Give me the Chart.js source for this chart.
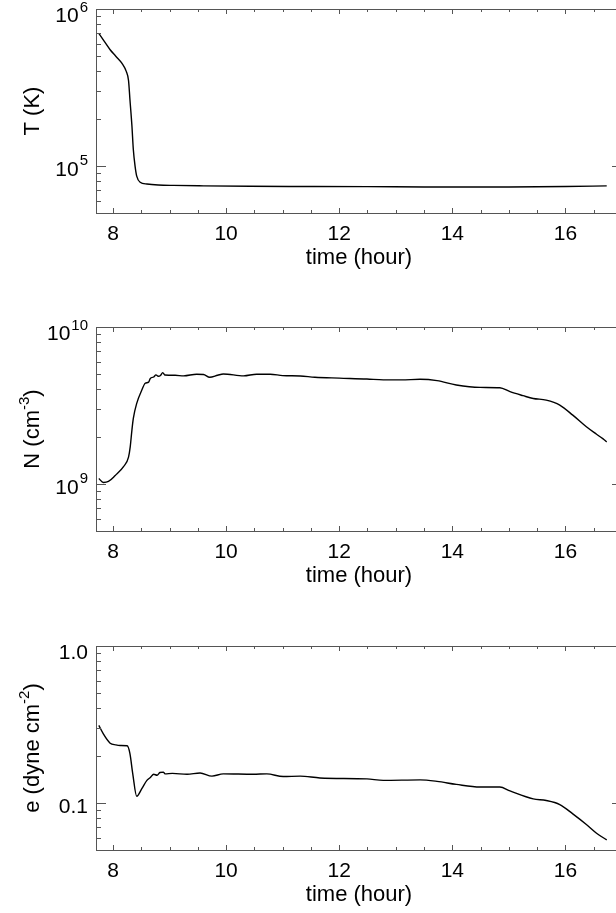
<!DOCTYPE html>
<html>
<head>
<meta charset="utf-8">
<title>Temperature, density and energy density vs time</title>
<script src="https://cdn.jsdelivr.net/npm/chart.js@4.4.1/dist/chart.umd.min.js"></script>
<style>
  html, body { margin: 0; padding: 0; background: #fff; overflow: hidden; }
  body { width: 616px; height: 913px; position: relative; }
  canvas { position: absolute; left: 0; }
</style>
</head>
<body>
<canvas id="tempChart" width="640" height="276" style="top:0px"></canvas>
<canvas id="densChart" width="640" height="276" style="top:318px"></canvas>
<canvas id="enerChart" width="640" height="276" style="top:637px"></canvas>
<script>
// time axis, shared by all three panels
const hourRange = [7.7, 17.0];
const hourTicks = [8, 10, 12, 14, 16];

// temperature T (K)
const tempHours = [7.75, 7.85, 7.95, 8.05, 8.16, 8.235, 8.275, 8.30, 8.335, 8.36, 8.39, 8.42, 8.48,
  8.60, 8.80, 9.07, 9.6, 10.42, 11.5, 12.5, 13.5, 14.0, 15.0, 16.0, 16.73];
const tempKelvin = [7.0e5, 6.2e5, 5.5e5, 5.0e5, 4.5e5, 4.0e5, 3.5e5, 2.65e5, 1.8e5, 1.27e5, 1.0e5, 8.6e4, 7.85e4,
  7.65e4, 7.55e4, 7.5e4, 7.45e4, 7.4e4, 7.38e4, 7.36e4, 7.33e4, 7.32e4, 7.33e4, 7.38e4, 7.45e4];
const tempRange = [5e4, 1e6];
const tempTickValues = [1e5, 1e6];
const tempTickLabels = [['10', '5'], ['10', '6']];
const tempTitle = [['T (K)', false]];

// density N (cm^-3)
const densHours = [7.75, 7.83, 7.92, 8.04, 8.19, 8.275, 8.305, 8.335, 8.36, 8.42, 8.51, 8.57, 8.63, 8.66,
  8.72, 8.76, 8.80, 8.84, 8.88, 8.92, 9.1, 9.25, 9.48, 9.60, 9.71, 9.85, 9.95, 10.31, 10.54, 10.78,
  11.0, 11.31, 11.57, 12.0, 12.49, 12.78, 13.1, 13.43, 13.73, 14.07, 14.49, 14.84, 15.02, 15.25,
  15.43, 15.66, 15.90, 16.13, 16.37, 16.55, 16.66, 16.73];
const densValues = [1.08e9, 1.02e9, 1.035e9, 1.13e9, 1.29e9, 1.48e9, 1.72e9, 2.2e9, 2.61e9, 3.26e9, 3.96e9, 4.38e9, 4.45e9, 4.7e9,
  4.8e9, 4.95e9, 4.85e9, 4.9e9, 5.12e9, 4.94e9, 4.92e9, 4.88e9, 5.0e9, 4.98e9, 4.78e9, 4.92e9, 5.02e9, 4.88e9, 5.0e9, 5.0e9,
  4.9e9, 4.87e9, 4.78e9, 4.72e9, 4.66e9, 4.6e9, 4.6e9, 4.64e9, 4.55e9, 4.27e9, 4.12e9, 4.1e9, 3.87e9, 3.65e9,
  3.5e9, 3.42e9, 3.18e9, 2.74e9, 2.31e9, 2.07e9, 1.94e9, 1.85e9];
const densRange = [5e8, 1e10];
const densTickValues = [1e9, 1e10];
const densTickLabels = [['10', '9'], ['10', '10']];
const densTitle = [['N (cm', false], ['-3', true], [')', false]];

// energy density e (dyne cm^-2)
const enerHours = [7.75, 7.83, 7.95, 8.05, 8.13, 8.25, 8.30, 8.35, 8.42, 8.51, 8.60, 8.66, 8.72, 8.78,
  8.83, 8.89, 8.92, 9.05, 9.31, 9.54, 9.75, 9.95, 10.48, 10.72, 11.01, 11.31, 11.66, 12.49, 12.78,
  13.43, 13.73, 14.07, 14.49, 14.84, 15.02, 15.43, 15.66, 15.90, 16.13, 16.37, 16.55, 16.73];
const enerValues = [0.312, 0.275, 0.240, 0.234, 0.232, 0.231, 0.206, 0.153, 0.110, 0.123, 0.139, 0.145, 0.152, 0.150,
  0.156, 0.157, 0.153, 0.154, 0.152, 0.155, 0.148, 0.153, 0.152, 0.153, 0.147, 0.148, 0.144, 0.142, 0.139,
  0.140, 0.137, 0.131, 0.126, 0.126, 0.119, 0.106, 0.1035, 0.0975, 0.085, 0.0727, 0.064, 0.058];
const enerRange = [0.05, 1.0];
const enerTickValues = [0.1, 1.0];
const enerTickLabels = [['0.1', ''], ['1.0', '']];
const enerTitle = [['e (dyne cm', false], ['-2', true], [')', false]];

const FONT = '"Liberation Sans", Arial, Helvetica, sans-serif';
const AXIS_COLOR = '#555';

// box, inward ticks, superscripted y labels and the rotated y title
const framePlugin = {
  id: 'frame',
  afterDraw(chart, args, opts) {
    const { ctx, chartArea: a, scales: { x, y } } = chart;
    ctx.save();
    ctx.strokeStyle = AXIS_COLOR;
    ctx.lineWidth = 1;
    ctx.strokeRect(a.left + 0.5, a.top + 0.5, a.right - a.left, a.bottom - a.top);

    ctx.beginPath();
    for (let h = Math.ceil(x.min * 2) / 2; h < x.max - 0.01; h += 0.5) {
      const px = Math.round(x.getPixelForValue(h)) + 0.5;
      const len = hourTicks.includes(h) ? 5 : 3;
      ctx.moveTo(px, a.bottom); ctx.lineTo(px, a.bottom - len);
      ctx.moveTo(px, a.top); ctx.lineTo(px, a.top + len);
    }
    const lo = Math.floor(Math.log10(y.min));
    const hi = Math.ceil(Math.log10(y.max));
    for (let d = lo; d <= hi; d++) {
      for (let k = 1; k <= 9; k++) {
        const v = k * Math.pow(10, d);
        if (v <= y.min * 1.0001 || v >= y.max * 0.9999) continue;
        const py = Math.round(y.getPixelForValue(v)) + 0.5;
        const len = k === 1 ? 10 : 5;
        ctx.moveTo(a.left, py); ctx.lineTo(a.left + len, py);
        ctx.moveTo(a.right, py); ctx.lineTo(a.right - len, py);
      }
    }
    ctx.stroke();

    // y tick labels, right aligned against the axis
    ctx.fillStyle = '#000';
    ctx.textBaseline = 'alphabetic';
    ctx.textAlign = 'left';
    opts.values.forEach((v, i) => {
      const [base, exp] = opts.labels[i];
      const py = y.getPixelForValue(v);
      const baseline = py + (i === opts.values.length - 1 ? 13 : 10);
      ctx.font = `15px ${FONT}`;
      const supW = exp ? ctx.measureText(exp).width : 0;
      ctx.font = `21px ${FONT}`;
      const baseW = ctx.measureText(base).width;
      const right = a.left - 8;
      const supX = right - supW;
      const baseX = exp ? supX - 1 - baseW : right - baseW;
      ctx.fillText(base, baseX, baseline);
      if (exp) {
        ctx.font = `15px ${FONT}`;
        ctx.fillText(exp, supX, baseline - 10.5);
      }
    });

    // y title, reads bottom to top
    const parts = opts.title;
    const widths = parts.map(([t, sup]) => {
      ctx.font = `${sup ? 15 : 22}px ${FONT}`;
      return ctx.measureText(t).width;
    });
    const total = widths.reduce((s, w) => s + w, 0);
    ctx.translate(38.5, (a.top + a.bottom) / 2);
    ctx.rotate(-Math.PI / 2);
    let tx = -total / 2;
    parts.forEach(([t, sup], i) => {
      ctx.font = `${sup ? 15 : 22}px ${FONT}`;
      ctx.fillText(t, tx, sup ? -10 : 0);
      tx += widths[i];
    });
    ctx.restore();
  }
};

function makePanel(id, hours, values, range, tickValues, tickLabels, title) {
  const points = hours.map((h, i) => ({ x: h, y: values[i] }));
  return new Chart(document.getElementById(id), {
    type: 'line',
    data: {
      datasets: [{
        data: points,
        borderColor: '#000',
        borderWidth: 1.4,
        pointRadius: 0,
        cubicInterpolationMode: 'monotone',
        fill: false
      }]
    },
    options: {
      responsive: false,
      devicePixelRatio: 1,
      animation: false,
      events: [],
      layout: { padding: { top: 9, right: 18, bottom: 0, left: 0 } },
      scales: {
        x: {
          type: 'linear',
          min: hourRange[0],
          max: hourRange[1],
          grid: { display: false, drawTicks: false },
          border: { display: false },
          afterBuildTicks: s => { s.ticks = hourTicks.map(v => ({ value: v })); },
          afterFit: s => { s.height = 63; },
          ticks: {
            autoSkip: false,
            maxRotation: 0,
            padding: 9,
            color: '#000',
            font: { family: FONT, size: 21 },
            callback: v => String(v)
          },
          title: {
            display: true,
            text: 'time (hour)',
            color: '#000',
            font: { family: FONT, size: 22 },
            padding: { top: 0, bottom: 5 }
          }
        },
        y: {
          type: 'logarithmic',
          min: range[0],
          max: range[1],
          grid: { display: false, drawTicks: false },
          border: { display: false },
          ticks: { display: false },
          afterFit: s => { s.width = 96; }
        }
      },
      plugins: {
        legend: { display: false },
        tooltip: { enabled: false },
        frame: { values: tickValues, labels: tickLabels, title: title }
      }
    },
    plugins: [framePlugin]
  });
}

makePanel('tempChart', tempHours, tempKelvin, tempRange, tempTickValues, tempTickLabels, tempTitle);
makePanel('densChart', densHours, densValues, densRange, densTickValues, densTickLabels, densTitle);
makePanel('enerChart', enerHours, enerValues, enerRange, enerTickValues, enerTickLabels, enerTitle);
</script>
</body>
</html>
